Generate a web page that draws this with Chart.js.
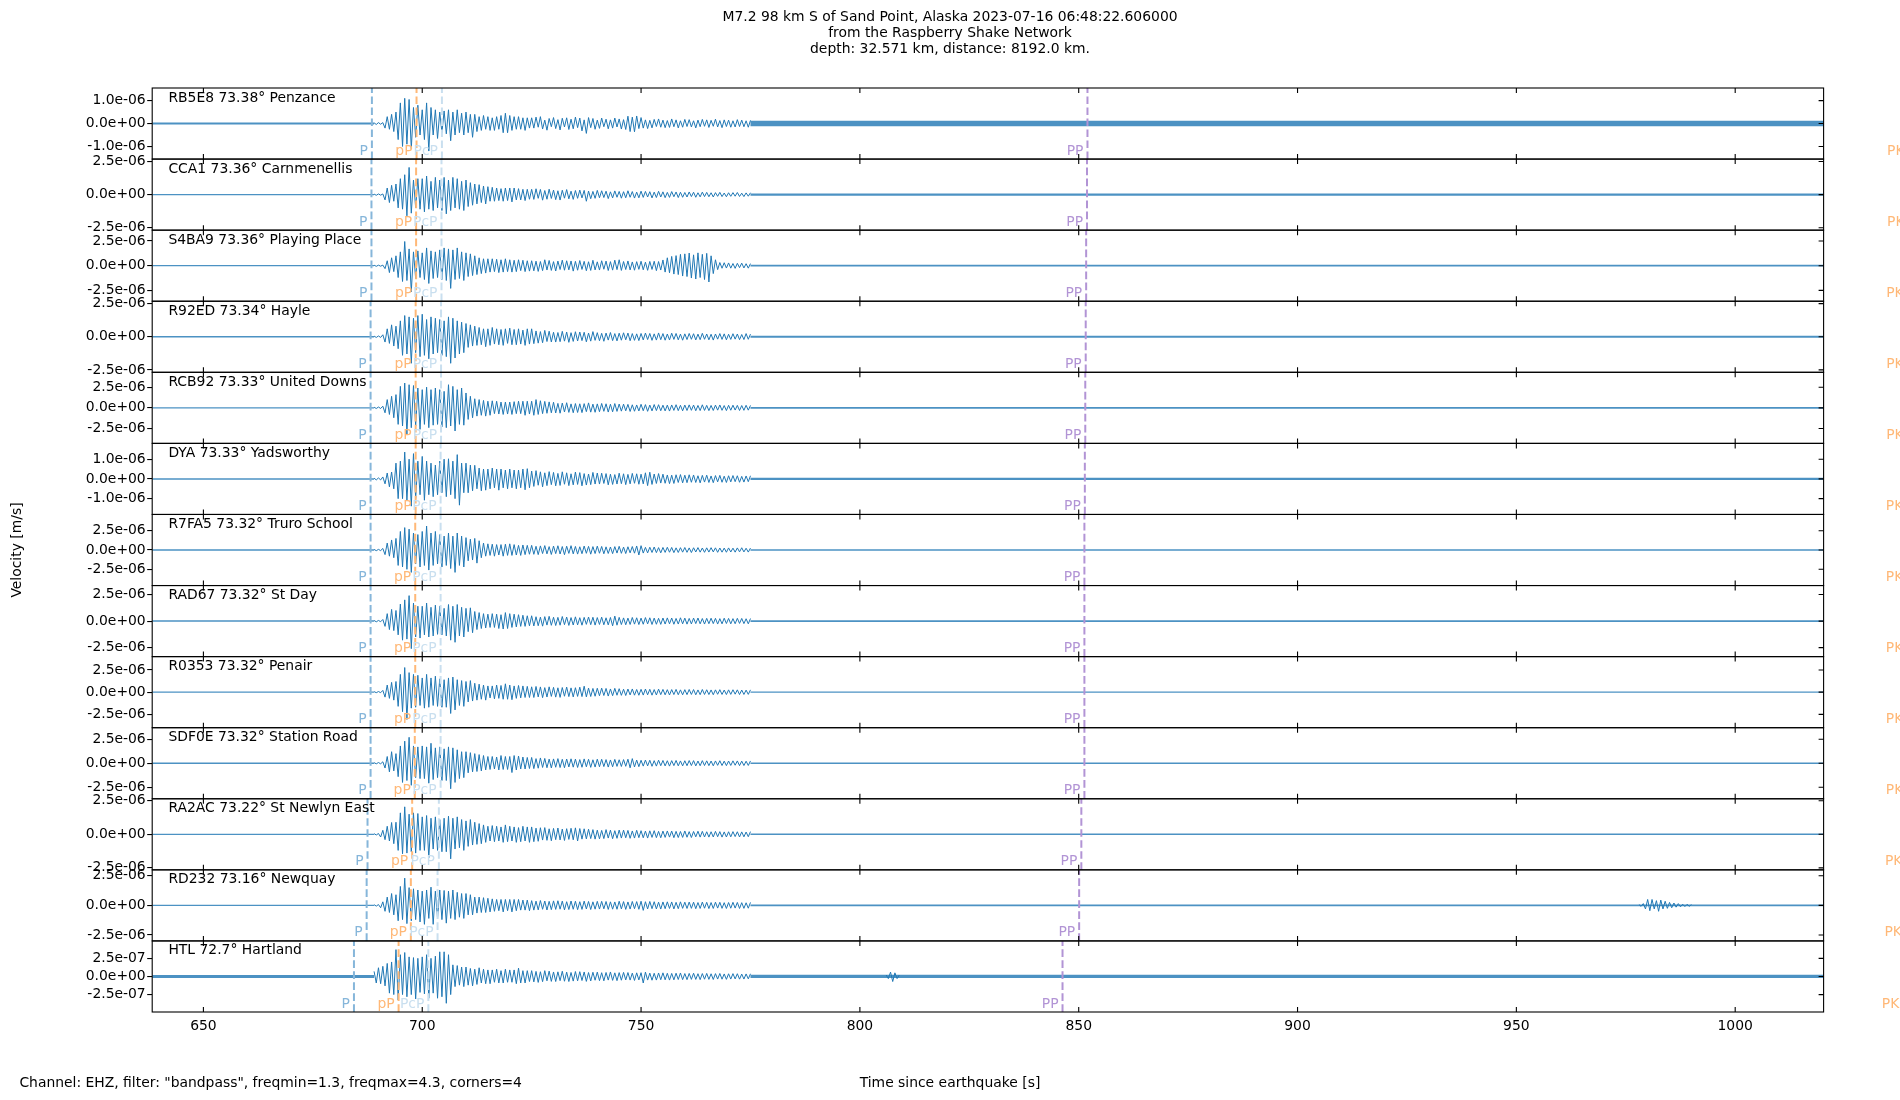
<!DOCTYPE html>
<html>
<head>
<meta charset="utf-8">
<title>M7.2 Sand Point, Alaska - Raspberry Shake section</title>
<script src="https://cdn.jsdelivr.net/npm/chart.js@4.4.0/dist/chart.umd.min.js"></script>
<style>
  html, body { margin: 0; padding: 0; background: #fff; }
  #wrap { width: 1900px; height: 1100px; }
</style>
</head>
<body>
<div id="wrap"><canvas id="section" width="1900" height="1100"></canvas></div>
<script>
var titleLines = [
    "M7.2 98 km S of Sand Point, Alaska 2023-07-16 06:48:22.606000",
    "from the Raspberry Shake Network",
    "depth: 32.571 km, distance: 8192.0 km.",
];
var footerText = 'Channel: EHZ, filter: "bandpass", freqmin=1.3, freqmax=4.3, corners=4';
var xTitle = "Time since earthquake [s]";
var yTitle = "Velocity [m/s]";

var stations = [
    "RB5E8 73.38° Penzance",
    "CCA1 73.36° Carnmenellis",
    "S4BA9 73.36° Playing Place",
    "R92ED 73.34° Hayle",
    "RCB92 73.33° United Downs",
    "DYA 73.33° Yadsworthy",
    "R7FA5 73.32° Truro School",
    "RAD67 73.32° St Day",
    "R0353 73.32° Penair",
    "SDF0E 73.32° Station Road",
    "RA2AC 73.22° St Newlyn East",
    "RD232 73.16° Newquay",
    "HTL 72.7° Hartland",
];

// axis limits (m/s) and tick steps per panel
var yLimits = [1.55e-6, 2.68e-6, 3.6e-6, 2.68e-6, 4.3e-6, 1.8e-6, 4.6e-6, 3.35e-6, 4.0e-6, 3.7e-6, 2.65e-6, 3.0e-6, 4.9e-7];
var yTickSteps = [1e-6, 2.5e-6, 2.5e-6, 2.5e-6, 2.5e-6, 1e-6, 2.5e-6, 2.5e-6, 2.5e-6, 2.5e-6, 2.5e-6, 2.5e-6, 2.5e-7];
var xRange = [638.3, 1020.2];
var xTicks = [650, 700, 750, 800, 850, 900, 950, 1000];

// phase arrivals (s since origin)
var phaseNames = ["P", "pP", "PcP", "PP", "PKiKP"];
var arrP = [688.5, 688.4, 688.4, 688.2, 688.2, 688.2, 688.2, 688.2, 688.2, 688.2, 687.5, 687.3, 684.4];
var arrpP = [698.7, 698.6, 698.6, 698.5, 698.5, 698.5, 698.4, 698.4, 698.4, 698.3, 697.7, 697.4, 694.6];
var arrPcP = [704.5, 704.4, 704.4, 704.3, 704.3, 704.2, 704.2, 704.2, 704.2, 704.2, 703.8, 703.5, 701.4];
var arrPP = [852.0, 851.9, 851.7, 851.6, 851.5, 851.4, 851.3, 851.3, 851.3, 851.3, 850.6, 850.1, 846.3];
var arrPKiKP = [1044.5, 1044.5, 1044.3, 1044.3, 1044.3, 1044.2, 1044.2, 1044.2, 1044.2, 1044.2, 1044.0, 1043.9, 1043.3];

// traces, in units of 1e-7 m/s
var ampUnit = 1e-7;
var burstStart = 689, burstStep = 0.5;     // 689.0 .. 725.0
var codaStart = 725.5, codaStep = 0.5;     // 725.5 .. 775.0

// half-width of the background noise before the onset and after the coda
var preNoise = [0.4, 0.5, 0.6, 0.5, 0.8, 0.4, 0.9, 0.7, 0.7, 0.7, 0.5, 0.6, 0.2];
var postNoise = [1.2, 0.8, 0.9, 0.8, 1.0, 0.6, 1.0, 0.8, 0.8, 0.7, 0.6, 0.7, 0.22];

var RB5E8_burst = [
    0.3, -0.4, 0.4, -0.3, 0.4,
    -2, 3, -2.5, 4, -3.5, 5, -7,
    9, -10, 11, -9, 10.5, -11, 7, -6, 8, -5,
    6, -7, 9, -12, 7, -5, 6, -6.5, 5, -4,
    5.5, -4.5, 6, -7.5, 5, -5, 6, -4, 4.5, -5,
    5, -4, 4, -6, 4, -3.5, 3, -3, 3.5, -2.5,
    3, -3, 2.5, -3, 3, -2.5, 3.5, -4, 4.5, -4,
    3.5, -3, 3, -2.5, 3, -2.5, 2.5, -3, 2.5, -2, 2.5,
];
var RB5E8_coda = [
    -2, 2.8, -1.6, 3, -2.4, 1.5, -2.9, 2.2, -1.4, 2.6,
    -2.2, 1.7, -2.8, 2.3, -1.5, 2.5, -2.6, 1.9, -2.3, 2.8,
    -1.8, 2.4, -3.2, 1.6, -4.3, 2.6, -1.8, 2.2, -2.5, 1.5,
    -2.1, 2.4, -1.4, 1.9, -2.3, 1.6, -2, 2.4, -1.5, 2,
    -2.4, 1.7, -2.6, 3.2, -3.5, 2.8, -3.6, 3.3, -2.2, 2.6,
    -2, 1.6, -2.2, 1.4, -1.9, 1.8, -1.3, 2, -1.6, 1.5,
    -1.8, 1.3, -1.7, 2, -1.4, 1.6, -1.9, 1.2, -1.6, 1.8,
    -1.3, 1.7, -1.5, 1.2, -1.9, 1.5, -1.4, 1.8, -1.2, 1.6,
    -1.7, 1.4, -1.2, 1.9, -1.5, 1.3, -1.8, 1.6, -1.3, 1.5,
    -1.6, 1.2, -1.5, 1.7, -1.3, 1.5, -1.4, 1.2, -1.6, 1.4,
];
var CCA1_burst = [
    0.4, -0.5, 0.5, -0.4, 0.5,
    -4, 5, -6, 7, -5, 8, -10,
    12, -11, 15, -16, 20.5, -14, 11, -10, 12, -11,
    12, -13, 14, -11, 10, -12, 13, -10, 11, -12,
    13, -14.5, 11, -12, 13, -10, 12, -11, 10, -12,
    11, -9, 9, -8, 8, -7, 7.5, -6, 6.5, -7,
    6, -5, 5.5, -5, 5, -4.5, 4.5, -5, 5, -4.5,
    5, -5.5, 5, -4, 4.5, -4, 4, -4.5, 4, -3.5, 4,
];
var CCA1_coda = [
    -3.6, 4.4, -2.8, 3.9, -4.2, 3.1, -3.5, 4.1, -2.9, 3.4,
    -3.8, 2.9, -4.1, 3.3, -2.7, 3.8, -3.2, 2.6, -3.6, 3.1,
    -2.8, 3.4, -2.5, 3.2, -5, 2.7, -3.1, 2.4, -2.8, 3.2,
    -2.4, 2.9, -2.2, 2.6, -3, 2.1, -2.5, 2.8, -2, 2.4,
    -2.7, 2.2, -2.4, 2.9, -2, 2.3, -2.6, 1.9, -2.4, 2.6,
    -2.1, 2.4, -1.8, 2.2, -2.5, 1.9, -2.2, 2.5, -1.8, 2.1,
    -2.3, 1.7, -2.1, 2.3, -1.6, 2, -2.2, 1.8, -2, 1.6,
    -1.8, 2, -1.5, 1.8, -2, 1.4, -1.7, 1.9, -1.5, 1.7,
    -1.6, 1.4, -1.8, 1.5, -1.3, 1.7, -1.5, 1.2, -1.6, 1.4,
    -1.3, 1.5, -1.2, 1.6, -1.4, 1.1, -1.5, 1.3, -1.2, 1.4,
];
var S4BA9_burst = [
    0.5, -0.6, 0.5, -0.5, 0.6,
    -3, 5, -7, 8, -6, 10, -12,
    14, -16, 24.5, -15, 17, -26.5, 14, -13, 15, -12,
    13, -14, 18, -18, 15, -13, 14, -12, 16, -14,
    18, -15, 17, -23, 16, -14, 18, -13, 14, -15,
    13, -11, 12, -10, 10, -9, 8, -8, 7, -7.5,
    7, -6.5, 7, -6, 6.5, -7, 6, -6.5, 7, -6,
    6, -6.5, 5.5, -6, 6, -5, 5.5, -6, 5, -5.5, 5,
];
var S4BA9_coda = [
    -5.2, 4.6, -5.8, 4.2, -5, 6, -4.4, 5.3, -4.8, 4.1,
    -5.4, 4.7, -3.9, 5.6, -4.6, 5, -4.2, 4.8, -5.5, 4.4,
    -4.6, 5.2, -3.8, 4.4, -5.1, 4, -4.8, 5.5, -4.3, 3.9,
    -4.4, 5, -3.6, 4.7, -4.9, 4.1, -4.5, 5.6, -4, 6,
    -4.8, 4.2, -3.9, 4.8, -4.3, 3.8, -4.6, 4.1, -3.7, 4.5,
    -4.2, 3.6, -4.7, 4.3, -3.8, 4.5, -5, 4.2, -4.4, 5.8,
    -6.5, 8, -7.2, 9.4, -8.5, 10.2, -9, 11.5, -10.5, 12,
    -11, 12.8, -12.5, 11, -13.5, 13, -12, 11.5, -14, 12.5,
    -16.5, 10, -8, 6, -4, 3.2, -2.6, 3, -2.4, 2.8,
    -2.5, 2.2, -2.7, 2.4, -2, 2.6, -2.3, 2, -2.5, 2.1,
];
var R92ED_burst = [
    0.5, -0.5, 0.6, -0.5, 1.5,
    -4, 6, -5, 9, -7, 8, -9,
    12, -14, 16, -13, 15, -20, 14, -12, 16, -15,
    17, -14, 13, -16.6, 15, -13, 14, -12, 13, -14,
    12, -15, 15, -20, 14, -16, 12, -13, 11, -12,
    10, -8, 9, -7, 8, -6.5, 7, -6, 6, -7.5,
    6, -6.5, 7, -5.5, 6, -6, 5.5, -6.5, 6, -5,
    6.5, -6, 5.5, -6, 6, -5.5, 5, -6.5, 6, -5.5, 6,
];
var R92ED_coda = [
    -5.2, 4.4, -4.8, 3.9, -4.5, 4.8, -3.6, 4.2, -3.9, 3.4,
    -4, 3.2, -3.7, 4.1, -3.3, 3.6, -4.2, 3.1, -3.5, 3.8,
    -3.2, 3.6, -2.9, 3.4, -3.8, 2.8, -3.3, 3.9, -2.7, 3.1,
    -3, 2.6, -3.4, 2.8, -2.5, 3.2, -2.9, 2.4, -3.1, 2.7,
    -2.6, 3, -2.3, 2.8, -3, 2.4, -2.7, 2.2, -2.9, 2.5,
    -2.4, 2.8, -2.1, 2.5, -2.7, 2.2, -2.5, 2.9, -2.2, 2.4,
    -2.6, 2.1, -2.4, 2.7, -2, 2.5, -2.3, 2, -2.6, 2.2,
    -2.1, 2.5, -1.9, 2.3, -2.4, 2, -2.2, 2.6, -1.9, 2.1,
    -2.3, 1.9, -2.5, 2.1, -1.8, 2.4, -2, 2.2, -2.3, 1.9,
    -2, 2.3, -1.8, 2.1, -2.2, 1.7, -2.1, 2.4, -1.9, 2,
];
var RCB92_burst = [
    0.8, -0.8, 1, -0.8, 2,
    -6, 10, -8, 14, -12, 16, -20,
    26, -22, 30, -32, 28, -24, 27, -22, 24, -26,
    22, -20, 25, -24, 22, -21, 24, -20, 22, -23,
    20, -24, 28, -22, 26, -28, 22, -20, 24, -21,
    18, -14, 14, -12, 11, -10, 10, -9, 9, -10,
    8, -9, 8.5, -7, 8, -7.5, 7, -8, 7, -7.5,
    7, -8, 7.5, -7, 8, -7, 8, -9, 8, -7.5, 8,
];
var RCB92_coda = [
    -9, 10, -8, 8.6, -7, 7.8, -6.6, 7.2, -6, 6.8,
    -6.2, 5.4, -6.5, 5.8, -5, 6.2, -5.5, 4.8, -5.9, 5.2,
    -5.6, 4.9, -5.8, 5.1, -4.6, 6, -5.2, 4.5, -5.4, 4.8,
    -4.7, 5.3, -4.2, 4.9, -5.1, 4.4, -4.8, 5.2, -4.3, 4.6,
    -4, 4.5, -3.6, 4.2, -4.4, 3.7, -4.1, 3.5, -3.8, 4.3,
    -3.5, 3.9, -4.2, 3.4, -3.7, 4, -3.3, 3.8, -3.5, 3.2,
    -3.7, 3.3, -3.9, 3.5, -3.1, 3.8, -3.4, 3.1, -3.6, 3.4,
    -3.2, 3.6, -3, 3.4, -3.5, 2.9, -3.3, 3.7, -3.1, 3,
    -3.4, 2.9, -3.2, 3.3, -2.8, 3.5, -3, 2.8, -3.3, 3.1,
    -2.9, 3.2, -2.7, 3, -3.2, 2.8, -3, 3.1, -2.8, 2.9,
];
var DYA_burst = [
    0.4, -0.5, 0.5, -0.5, 1,
    -2.5, 3, -4, 3.5, -5, 8, -10,
    9, -10, 13.6, -11, 10, -13.8, 12.8, -10, 9, -8,
    11.4, -10.8, 9, -8, 8, -9, 7, -8, 9, -7,
    10, -9, 10.2, -8, 9, -10, 12.3, -13.3, 8, -7,
    8, -7, 7, -6, 6.9, -5, 5.5, -6, 5, -5.7,
    5, -5, 5.5, -4.5, 5, -5.7, 5, -4.5, 4.5, -5,
    5, -4.5, 4.5, -5, 4.5, -4.5, 5, -5.5, 5.2, -4.5, 4,
];
var DYA_coda = [
    -3.8, 4.2, -3.2, 3.6, -4, 3.1, -3.4, 3.7, -2.9, 3.3,
    -3.5, 2.8, -3.3, 3.6, -2.7, 3.1, -3.4, 2.6, -3, 3.5,
    -2.8, 3.2, -3.5, 2.7, -3.1, 2.5, -2.9, 3.3, -2.6, 3,
    -2.6, 2.9, -2.3, 2.7, -3, 2.4, -2.8, 2.2, -2.6, 2.9,
    -2.4, 2.6, -2.9, 2.3, -2.5, 2.8, -2.2, 2.6, -2.7, 2.4,
    -2.5, 3.1, -3.4, 3.4, -2.8, 2.5, -2.3, 2.7, -2.1, 2.4,
    -2.2, 2, -2.4, 1.9, -2.3, 2.1, -1.8, 2.2, -2, 1.9,
    -1.9, 2.1, -1.7, 2, -1.8, 1.6, -2, 1.8, -1.6, 1.9,
    -1.8, 1.5, -1.9, 1.7, -1.5, 1.8, -1.7, 1.4, -1.8, 1.6,
    -1.5, 1.7, -1.4, 1.6, -1.7, 1.3, -1.6, 1.5, -1.4, 1.6,
];
var R7FA5_burst = [
    0.8, -0.9, 0.8, -0.8, 2,
    -6, 9, -8, 13, -10, 15, -20,
    24, -22, 29, -25, 27, -29, 22, -18, 20, -22,
    24, -20, 31, -26, 22, -20, 24, -18, 20, -22,
    18, -20, 22, -24, 18, -29, 22, -20, 18, -22,
    16, -14, 14, -13, 15, -17, 12, -10, 9, -8,
    8, -7, 7.5, -8, 7, -6.5, 7, -8, 7.5, -7,
    8, -7, 7, -6.5, 6, -7, 6.5, -6, 6, -5.5, 6,
];
var R7FA5_coda = [
    -5.6, 4.8, -6, 5.3, -4.6, 5.7, -5, 4.4, -5.8, 5.1,
    -4.7, 5.5, -5.2, 4.5, -6.1, 4.9, -4.4, 5.6, -5, 4.6,
    -5.3, 4.2, -4.8, 5.1, -4.3, 4.7, -5.4, 4.4, -4.6, 5,
    -4.2, 4.6, -4.9, 4.1, -4.5, 3.9, -4.7, 4.4, -4, 4.8,
    -4.3, 3.8, -4.6, 4.2, -3.7, 4.5, -4.1, 5.2, -6.5, 5.6,
    -4, 3.4, -3.8, 3.6, -3.2, 3.9, -3.4, 3.1, -3.7, 3.3,
    -3.1, 3.5, -2.9, 3.3, -3.4, 2.8, -3.2, 3, -2.8, 3.2,
    -3, 2.7, -3.3, 2.9, -2.6, 3.1, -2.8, 2.6, -3, 2.8,
    -2.7, 3, -2.5, 2.8, -3, 2.6, -2.8, 2.5, -2.9, 2.7,
    -2.6, 2.4, -2.8, 2.7, -2.4, 2.9, -2.5, 2.3, -2.7, 2.5,
];
var RAD67_burst = [
    0.6, -0.7, 0.6, -0.6, 1.5,
    -5, 7, -8, 11, -9, 10, -13,
    16, -18, 20, -17, 24, -26, 17, -15, 14, -16,
    14, -13, 17, -15, 13, -14, 15, -12.5, 14, -13,
    12, -14, 15.6, -18, 14, -20, 15.6, -14, 13, -15,
    12, -10, 12.5, -11, 9, -8, 8, -7, 7, -6.5,
    6.5, -6, 7, -6, 6.5, -7, 6, -7.5, 8, -7,
    7, -6, 6.5, -5.5, 6, -5, 5.5, -5, 5, -4.5, 5,
];
var RAD67_coda = [
    -4.6, 4.1, -4.4, 3.7, -4.8, 4.2, -3.8, 4.5, -4, 3.6,
    -4.2, 3.5, -3.9, 4.3, -3.4, 3.8, -4.1, 3.3, -3.7, 4,
    -3.6, 3.2, -3.9, 3.5, -3.1, 3.8, -3.4, 3.6, -3.8, 3.3,
    -3.2, 3.7, -3.5, 3.1, -3.6, 3.4, -4.5, 4.7, -3.9, 3.5,
    -3.3, 3, -3.5, 2.8, -3.2, 3.4, -2.9, 3.1, -3.3, 2.8,
    -3, 3.3, -2.7, 3.1, -3.2, 2.8, -3, 2.6, -3.1, 2.9,
    -2.8, 3, -2.6, 2.9, -3, 2.5, -2.8, 3.1, -2.6, 2.8,
    -2.9, 2.5, -2.7, 2.8, -2.4, 2.9, -2.6, 2.4, -2.8, 2.6,
    -2.5, 2.7, -2.4, 2.6, -2.8, 2.3, -2.6, 2.7, -2.3, 2.5,
    -2.6, 2.3, -2.5, 2.6, -2.2, 2.5, -2.4, 2.2, -2.6, 2.4,
];
var R0353_burst = [
    0.6, -0.6, 0.7, -0.6, 2,
    -5.6, 8, -7, 11, -9, 12, -16,
    20, -22, 27.7, -30.7, 22, -18, 20, -17, 19, -15,
    16, -18, 20, -17, 16, -15, 18, -16, 15, -17,
    14, -17, 16, -24, 17, -20, 14, -15, 13, -16,
    12, -11, 13, -10, 10, -9, 9, -8, 8, -9,
    7, -6.5, 7, -7.5, 8, -7, 7.5, -8, 9.4, -8,
    8, -8.5, 7, -7, 7.5, -6.5, 7, -6, 6.5, -6, 6,
];
var R0353_coda = [
    -6, 6.4, -5.4, 5.9, -6.2, 5.1, -5.5, 6, -4.8, 5.4,
    -5.6, 4.9, -5.9, 5.2, -4.6, 5.7, -5, 4.8, -5.4, 5,
    -4.8, 5.6, -5, 6.7, -5.3, 4.6, -4.9, 4.2, -4.6, 4.4,
    -4.1, 4.5, -3.8, 4.2, -4.4, 3.6, -4, 4.3, -3.5, 3.9,
    -3.6, 3.3, -3.8, 3.5, -3.1, 3.6, -3.4, 3, -3.5, 3.2,
    -3.3, 3.5, -3, 3.2, -3.4, 2.9, -3.2, 3.4, -2.8, 3.1,
    -3, 2.8, -3.2, 2.9, -2.7, 3.1, -2.9, 2.6, -3, 2.8,
    -2.8, 3, -2.6, 2.9, -3, 2.5, -2.8, 3, -2.6, 2.7,
    -2.7, 2.5, -2.9, 2.6, -2.4, 2.8, -2.6, 2.4, -2.7, 2.6,
    -2.5, 2.7, -2.3, 2.6, -2.7, 2.4, -2.6, 2.3, -2.5, 2.6,
];
var SDF0E_burst = [
    0.6, -0.6, 0.7, -0.6, 1.5,
    -5, 7, -9, 12, -8, 10, -14,
    18, -20, 23, -18, 27, -23, 18, -15, 17, -16,
    18, -16, 17, -20.8, 20.8, -17, 16, -15, 17, -18,
    15, -18, 17, -26.6, 16, -20, 14, -16, 12, -15,
    12, -10, 11, -9, 10, -8.6, 9, -8, 8, -7,
    7, -6.5, 7, -6, 6.5, -7, 8, -6.5, 7, -6.5,
    7, -9.7, 8, -7, 7.5, -6, 6.5, -6, 6, -5.5, 6,
];
var SDF0E_coda = [
    -5.6, 4.8, -5.2, 5.5, -4.4, 5, -4.7, 4.3, -4.9, 4.5,
    -4.2, 4.8, -4.5, 4.1, -4.7, 4.4, -3.9, 4.6, -4.1, 4.3,
    -4.4, 3.8, -4.2, 4.5, -3.7, 4.1, -4.3, 3.6, -4, 4.2,
    -3.7, 4.1, -3.5, 3.8, -4, 3.4, -3.7, 4, -3.3, 3.6,
    -3.4, 3.8, -3.2, 4.2, -4.8, 4.8, -3.9, 3.3, -3.6, 3.1,
    -3, 3.3, -2.8, 3.1, -3.2, 2.7, -3, 3.2, -2.6, 2.9,
    -2.8, 2.6, -3, 2.7, -2.5, 2.9, -2.7, 2.4, -2.8, 2.6,
    -2.6, 2.8, -2.4, 2.7, -2.8, 2.3, -2.6, 2.7, -2.4, 2.5,
    -2.5, 2.3, -2.7, 2.4, -2.2, 2.6, -2.4, 2.2, -2.5, 2.3,
    -2.3, 2.5, -2.1, 2.4, -2.5, 2.2, -2.4, 2.1, -2.3, 2.4,
];
var RA2AC_burst = [
    0.5, -0.5, 0.6, -2, 3,
    -4, 6, -5, 8.8, -7, 9, -12,
    16, -14.5, 20.5, -14, 15, -13, 16, -14, 15.5, -12,
    13, -12, 14, -17.5, 12, -11, 13, -12, 11, -13,
    12, -13, 13.5, -18.3, 12, -11, 13, -10, 11, -12,
    10, -9, 11, -8, 9, -7.5, 8, -7, 7, -6,
    6, -5, 6.5, -5.5, 6, -5, 5.5, -6, 7, -5.5,
    6, -5, 5.5, -6, 5, -5.5, 6, -5, 5.5, -6, 5.5,
];
var RA2AC_coda = [
    -5.5, 4.6, -5.2, 4.9, -4.3, 5, -4.5, 4.1, -4.8, 4.4,
    -4, 4.7, -4.2, 3.9, -4.6, 4.2, -3.8, 4.5, -4.1, 4.8,
    -5, 4.3, -3.6, 4.1, -3.4, 3.8, -3.2, 3.5, -3.6, 3.1,
    -3.4, 2.9, -3.2, 3.5, -2.8, 3.1, -3.3, 2.7, -3, 3.2,
    -2.8, 3.1, -2.6, 2.9, -3, 2.5, -2.8, 3, -2.5, 2.7,
    -2.6, 2.4, -2.8, 2.6, -2.3, 2.7, -2.5, 2.2, -2.6, 2.4,
    -2.3, 2.5, -2.1, 2.4, -2.5, 2.2, -2.4, 2.1, -2.3, 2.5,
    -2.2, 2, -2.4, 2.1, -1.9, 2.3, -2.1, 2.2, -2, 1.9,
    -2.1, 1.9, -2, 2.2, -1.8, 2, -2.1, 1.8, -2, 1.9,
    -1.9, 2, -1.7, 1.9, -2, 1.8, -1.9, 1.7, -1.8, 2,
];
var RD232_burst = [
    0.6, -0.6, 0.7, -2, 3,
    -5, 7, -6, 10, -8, 9, -13,
    16, -12, 23, -15.4, 15, -13, 14, -12, 13, -14,
    12, -16, 13, -11, 15.4, -16, 12, -11, 13, -12,
    12.6, -15, 12, -11, 13, -12, 11, -10, 10, -11,
    10, -8, 9, -8, 7, -6.5, 7, -6, 6.5, -6,
    6, -5.5, 5.5, -5, 5, -4.5, 5, -5.5, 5, -4.5,
    5, -5.5, 5, -4.5, 5, -4, 4.5, -4, 4.5, -4.5, 4,
];
var RD232_coda = [
    -4, 3.6, -3.8, 4.1, -3.3, 3.7, -3.9, 3.4, -3.6, 3.8,
    -3.4, 3.9, -3.2, 3.6, -3.8, 3.1, -3.5, 3.7, -3.3, 3.5,
    -3.6, 3.1, -3.4, 3.6, -3, 3.3, -3.5, 3, -3.2, 3.4,
    -3.1, 3.4, -2.9, 3.3, -3.4, 3, -3.2, 2.9, -3.3, 3.5,
    -3, 3.2, -3.4, 2.9, -3.1, 3.3, -2.8, 3.2, -3.3, 3.5,
    -4.2, 3.1, -3, 3.3, -2.8, 3.1, -3, 2.7, -3.1, 2.9,
    -2.8, 3, -2.6, 2.9, -3, 2.6, -2.8, 3, -2.5, 2.7,
    -2.6, 2.8, -2.5, 2.7, -2.8, 2.4, -2.6, 2.8, -2.4, 2.6,
    -2.7, 2.4, -2.6, 2.7, -2.3, 2.6, -2.5, 2.3, -2.6, 2.4,
    -2.4, 2.6, -2.3, 2.5, -2.6, 2.3, -2.5, 2.2, -2.4, 2.5,
];
var HTL_burst = [
    0.7, -0.9, 1.2, -1, 1.4,
    -1.3, 1.8, -2.3, 2, -2.5, 3.7, -3.25,
    3, -2.5, 3.3, -2.8, 2.7, -2.5, 2.6, -3.1, 2.5, -2.2,
    2.7, -2.4, 3, -3, 2.5, -2.3, 2.8, -3, 3.4, -2.8,
    3.4, -3.7, 3, -2.5, 1.6, -1.4, 1.5, -1.2, 1.3, -1.4,
    1.3, -1.2, 1.1, -1.3, 1, -1.1, 1.2, -0.9, 1, -1,
    0.9, -1, 0.9, -0.8, 1, -0.9, 0.8, -0.9, 1, -0.8,
    0.9, -0.8, 0.9, -1, 1.15, -0.9, 0.8, -0.9, 0.8, -0.7, 0.8,
];
var HTL_coda = [
    -0.75, 0.7, -0.82, 0.65, -0.72, 0.8, -0.6, 0.74, -0.68, 0.62,
    -0.7, 0.64, -0.58, 0.72, -0.66, 0.6, -0.7, 0.55, -0.64, 0.68,
    -0.6, 0.66, -0.56, 0.62, -0.68, 0.54, -0.62, 0.58, -0.52, 0.6,
    -0.58, 0.52, -0.6, 0.55, -0.5, 0.62, -0.54, 0.5, -0.58, 0.53,
    -0.52, 0.56, -0.48, 0.54, -0.5, 0.46, -0.55, 0.5, -0.48, 0.52,
    -0.9, 0.6, -0.5, 0.46, -0.52, 0.44, -0.5, 0.48, -0.45, 0.5,
    -0.46, 0.44, -0.5, 0.42, -0.47, 0.45, -0.42, 0.48, -0.44, 0.4,
    -0.44, 0.42, -0.4, 0.45, -0.41, 0.38, -0.44, 0.4, -0.38, 0.42,
    -0.4, 0.37, -0.42, 0.39, -0.36, 0.41, -0.38, 0.35, -0.4, 0.37,
    -0.36, 0.39, -0.34, 0.38, -0.37, 0.33, -0.36, 0.35, -0.33, 0.37,
];

// isolated later arrivals (0.5 s samples)
var RD232_event = [0.7, -0.8, 1.5, -3, 5, -4.5, 5, -3, 4, -5, 4.5, -3, 3.5, -2.5, 2.5, -2, 2, -1.5, 1.5, -1.2, 1, -1, 0.9, -0.8, 0.7];
var HTL_event = [0.2, -0.3, 0.6, -0.7, 0.5, -0.3, 0.2];
var eventPanels = [11, 12];
var eventStarts = [978, 806];

var bursts = [RB5E8_burst, CCA1_burst, S4BA9_burst, R92ED_burst, RCB92_burst, DYA_burst, R7FA5_burst,
    RAD67_burst, R0353_burst, SDF0E_burst, RA2AC_burst, RD232_burst, HTL_burst];
var codas = [RB5E8_coda, CCA1_coda, S4BA9_coda, R92ED_coda, RCB92_coda, DYA_coda, R7FA5_coda,
    RAD67_coda, R0353_coda, SDF0E_coda, RA2AC_coda, RD232_coda, HTL_coda];
var events = [RD232_event, HTL_event];
var arrivals = [arrP, arrpP, arrPcP, arrPP, arrPKiKP];

var traceColor = "#1f77b4";
var noiseColor = "rgba(31, 119, 180, 0.8)";
var phaseColors = ["#86b6da", "#ffb877", "#c9dfef", "#b294d5", "#ffb877"];
var FONT_FAMILY = "'DejaVu Sans', 'Noto Sans', sans-serif";
var FONT_SIZE = 13.9;

Chart.defaults.font.family = FONT_FAMILY;
Chart.defaults.font.size = FONT_SIZE;
Chart.defaults.color = "#000";

function sci(v) {
    if (v === 0) return "0.0e+00";
    var parts = v.toExponential(1).split("e");
    var n = parseInt(parts[1], 10);
    return parts[0] + "e" + (n < 0 ? "-" : "+") + String(Math.abs(n)).padStart(2, "0");
}

function samples(values, start, step) {
    return values.map(function (v, j) {
        return { x: start + j * step, y: v * ampUnit };
    });
}

// noise drawn as a band whose thickness is the noise level on the panel's own scale
function bandWidth(i, level) {
    return function (ctx) {
        var s = ctx.chart.scales["y" + i];
        if (!s) return 1;
        return Math.max(1, 2 * Math.abs(s.getPixelForValue(level * ampUnit) - s.getPixelForValue(0)));
    };
}

var datasets = [];
stations.forEach(function (name, i) {
    var axis = "y" + i;
    arrivals.forEach(function (arr, k) {
        datasets.push({
            yAxisID: axis,
            data: [{ x: arr[i], y: -yLimits[i] }, { x: arr[i], y: yLimits[i] }],
            borderColor: phaseColors[k],
            borderWidth: 2,
            borderDash: [7.7, 3.3],
            order: 0,
        });
    });
    datasets.push({
        yAxisID: axis,
        data: samples(bursts[i], burstStart, burstStep).concat(samples(codas[i], codaStart, codaStep)),
        borderColor: traceColor,
        borderWidth: 1,
        order: 1,
    });
    datasets.push({
        yAxisID: axis,
        data: [{ x: xRange[0], y: 0 }, { x: burstStart, y: 0 }],
        borderColor: noiseColor,
        borderWidth: bandWidth(i, preNoise[i]),
        order: 2,
    });
    datasets.push({
        yAxisID: axis,
        data: [{ x: codaStart + (codas[i].length - 1) * codaStep, y: 0 }, { x: xRange[1], y: 0 }],
        borderColor: noiseColor,
        borderWidth: bandWidth(i, postNoise[i]),
        order: 2,
    });
});
eventPanels.forEach(function (p, e) {
    datasets.push({
        yAxisID: "y" + p,
        data: samples(events[e], eventStarts[e], burstStep),
        borderColor: traceColor,
        borderWidth: 1,
        order: 1,
    });
});

var scales = {
    x: {
        type: "linear",
        position: "bottom",
        min: xRange[0],
        max: xRange[1],
        afterBuildTicks: function (s) {
            s.ticks = xTicks.map(function (v) { return { value: v }; });
        },
        afterFit: function (s) { s.height = 88; },
        grid: { display: false },
        border: { display: false },
        ticks: {
            padding: -2,
            maxRotation: 0,
            autoSkip: false,
            callback: function (v) { return String(v); },
        },
    },
};
// last added stacked axis goes on top, so add the panels bottom-up
for (var i = stations.length - 1; i >= 0; i--) {
    (function (i) {
        scales["y" + i] = {
            type: "linear",
            position: "left",
            stack: "panels",
            stackWeight: 1,
            offset: false,
            min: -yLimits[i],
            max: yLimits[i],
            afterBuildTicks: function (s) {
                s.ticks = [-yTickSteps[i], 0, yTickSteps[i]].map(function (v) { return { value: v }; });
            },
            afterFit: function (s) { s.width = 152.2; },
            grid: { drawOnChartArea: false, tickLength: 5, color: "#000", lineWidth: 1.1 },
            border: { display: false },
            ticks: { padding: 1.5, autoSkip: false, callback: sci },
        };
    })(i);
}

var sectionDecor = {
    id: "sectionDecor",
    afterDraw: function (chart) {
        var ctx = chart.ctx;
        var area = chart.chartArea;
        var xs = chart.scales.x;
        ctx.save();
        ctx.font = FONT_SIZE + "px " + FONT_FAMILY;
        ctx.fillStyle = "#000";

        ctx.textAlign = "center";
        ctx.textBaseline = "middle";
        titleLines.forEach(function (line, j) {
            ctx.fillText(line, chart.width / 2, 17.5 + j * 15.8);
        });

        ctx.textBaseline = "alphabetic";
        ctx.textAlign = "left";
        ctx.fillText(footerText, 19.4, 1087);
        ctx.textAlign = "center";
        ctx.fillText(xTitle, chart.width / 2, 1087);

        ctx.save();
        ctx.translate(17, (area.top + area.bottom) / 2);
        ctx.rotate(-Math.PI / 2);
        ctx.textBaseline = "middle";
        ctx.fillText(yTitle, 0, 0);
        ctx.restore();

        ctx.strokeStyle = "#000";
        ctx.lineWidth = 1.1;
        stations.forEach(function (name, i) {
            var s = chart.scales["y" + i];
            ctx.strokeRect(area.left, s.top, area.right - area.left, s.bottom - s.top);
            ctx.beginPath();
            xTicks.forEach(function (v) {
                var px = xs.getPixelForValue(v);
                ctx.moveTo(px, s.top);
                ctx.lineTo(px, s.top + 5);
                ctx.moveTo(px, s.bottom);
                ctx.lineTo(px, s.bottom - 5);
            });
            s.ticks.forEach(function (t) {
                var py = s.getPixelForValue(t.value);
                ctx.moveTo(area.right, py);
                ctx.lineTo(area.right - 5, py);
            });
            ctx.stroke();

            ctx.fillStyle = "#000";
            ctx.textAlign = "left";
            ctx.fillText(name, area.left + 16.2, s.top + 13.5);

            ctx.textAlign = "right";
            arrivals.forEach(function (arr, k) {
                var px = xs.getPixelForValue(arr[i]);
                ctx.fillStyle = phaseColors[k];
                ctx.fillText(phaseNames[k], px - 4, s.bottom - 4.5);
            });
        });
        ctx.restore();
    },
};

new Chart("section", {
    type: "line",
    data: { datasets: datasets },
    options: {
        responsive: false,
        animation: false,
        events: [],
        parsing: false,
        layout: { padding: { left: 0, right: 76.4, top: 88, bottom: 0 } },
        elements: {
            point: { radius: 0 },
            line: { tension: 0, fill: false, borderCapStyle: "butt" },
        },
        plugins: {
            legend: { display: false },
            tooltip: { enabled: false },
            title: { display: false },
        },
        scales: scales,
    },
    plugins: [sectionDecor],
});
</script>
</body>
</html>
